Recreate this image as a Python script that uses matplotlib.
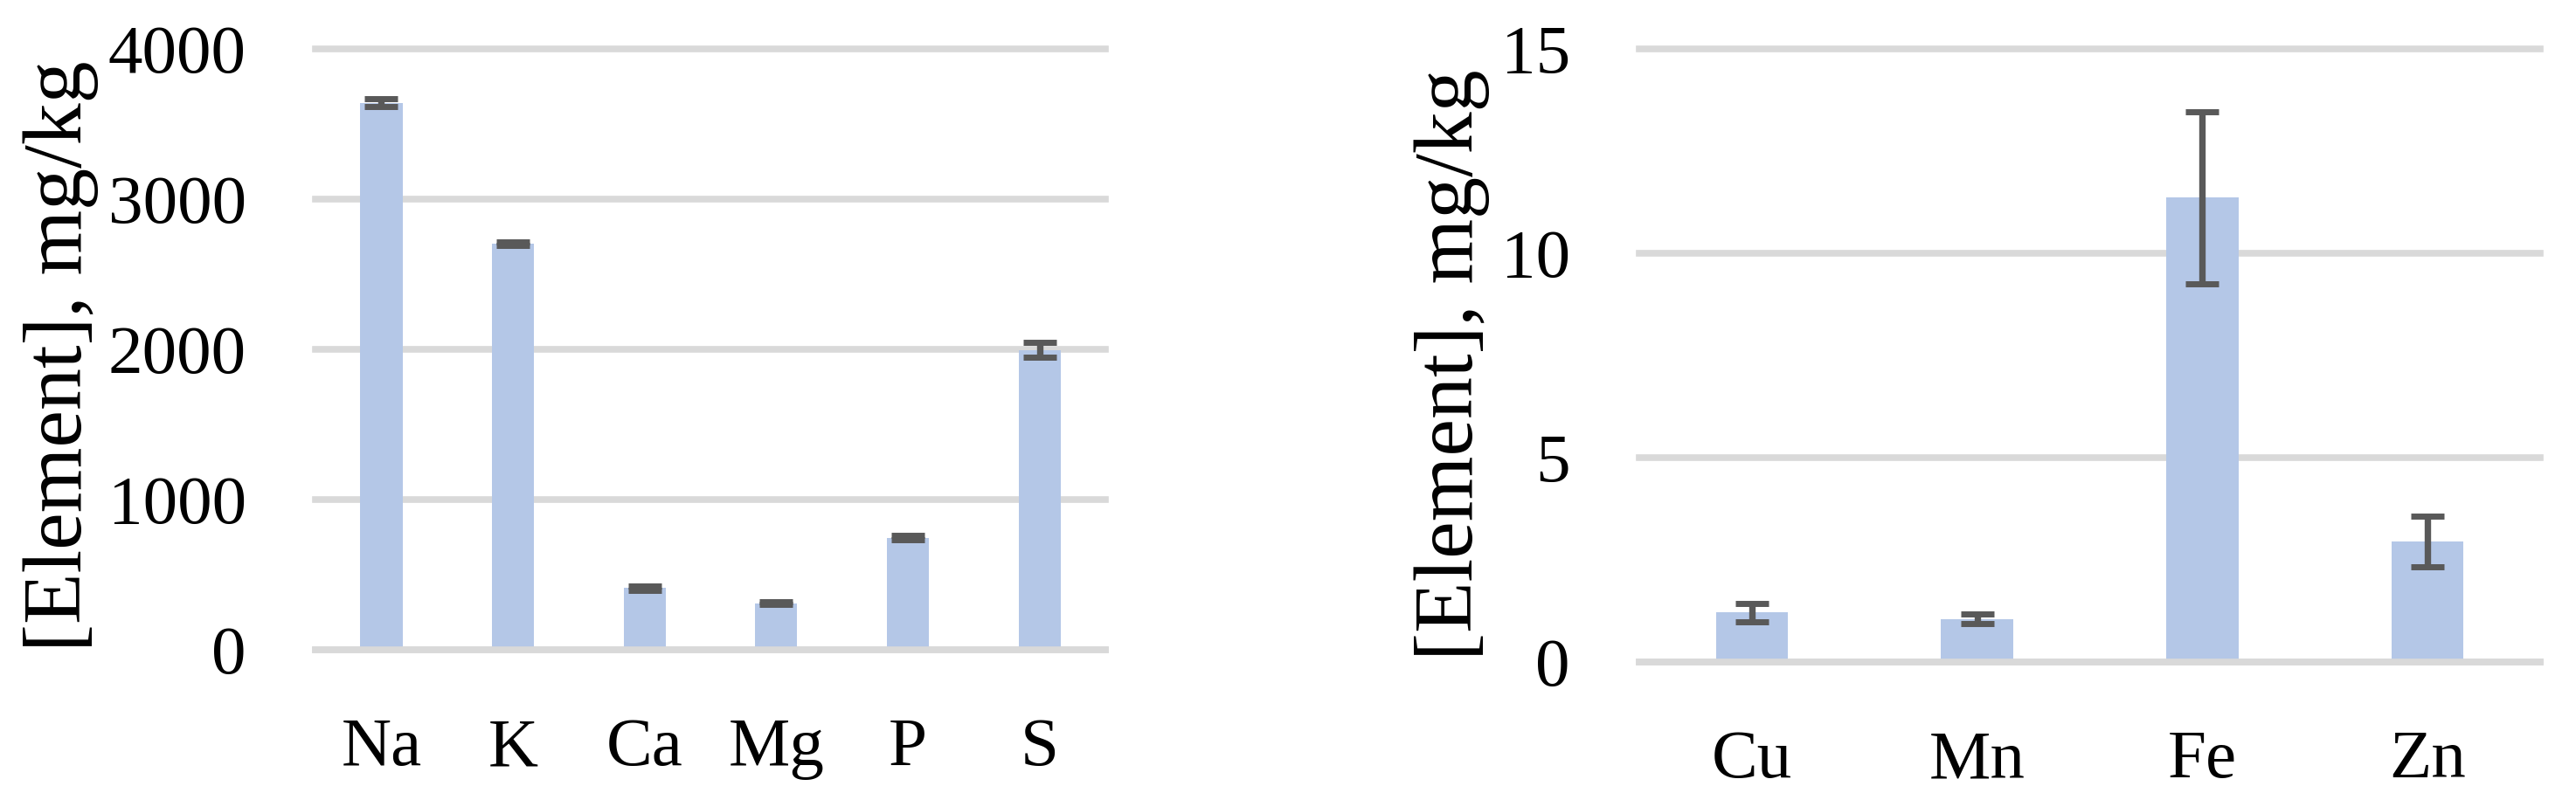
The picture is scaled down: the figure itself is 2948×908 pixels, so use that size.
import matplotlib
matplotlib.use("Agg")
import matplotlib.pyplot as plt

# major elements, mg/kg
major_elements = ["Na", "K", "Ca", "Mg", "P", "S"]
major_values = [3642, 2706, 410, 310, 747, 1997]
major_errors = [26, 12, 17, 9, 15, 52]

# trace elements, mg/kg
trace_elements = ["Cu", "Mn", "Fe", "Zn"]
trace_values = [1.21, 1.05, 11.36, 2.95]
trace_errors = [0.22, 0.12, 2.10, 0.62]

BAR_COLOR = "#B4C7E7"
GRID_COLOR = "#D9D9D9"
ERR_COLOR = "#595959"
LABEL = "[Element], mg/kg"

plt.rcParams["font.family"] = ["Liberation Serif", "DejaVu Serif"]


def draw_panel(ax, names, values, errors, ymax, step):
    x = range(len(names))
    ax.set_axisbelow(True)
    ax.bar(x, values, width=0.32, color=BAR_COLOR, zorder=2)
    ax.errorbar(x, values, yerr=errors, fmt="none", ecolor=ERR_COLOR,
                elinewidth=5.3, capsize=13.7, capthick=5.0, zorder=4)
    ax.axhline(0, color=GRID_COLOR, lw=5.5, zorder=3, clip_on=False)

    ax.set_xlim(-0.5, len(names) - 0.5)
    ax.set_ylim(0, ymax)
    ax.set_yticks(range(0, ymax + 1, step))
    ax.set_xticks(list(x))
    ax.set_xticklabels(names)

    ax.grid(axis="y", color=GRID_COLOR, lw=5.5)
    for line in ax.get_ygridlines():
        line.set_clip_on(False)
    for sp in ax.spines.values():
        sp.set_visible(False)
    ax.tick_params(axis="both", length=0, labelsize=57)
    ax.tick_params(axis="y", pad=57)
    ax.tick_params(axis="x", pad=56)


fig = plt.figure(figsize=(29.48, 9.08), dpi=100)
ax1 = fig.add_axes([0.1225, 0.1806, 0.3066, 0.7577])
ax2 = fig.add_axes([0.6364, 0.1652, 0.3497, 0.7731])

draw_panel(ax1, major_elements, major_values, major_errors, 4000, 1000)
draw_panel(ax2, trace_elements, trace_values, trace_errors, 15, 5)

fig.text(70 / 2948, 1 - 408 / 908, LABEL, rotation=90, ha="center",
         va="center", fontsize=69)
fig.text(1662 / 2948, 1 - 418 / 908, LABEL, rotation=90, ha="center",
         va="center", fontsize=69)

fig.savefig("out.png", dpi=100, facecolor="white")
